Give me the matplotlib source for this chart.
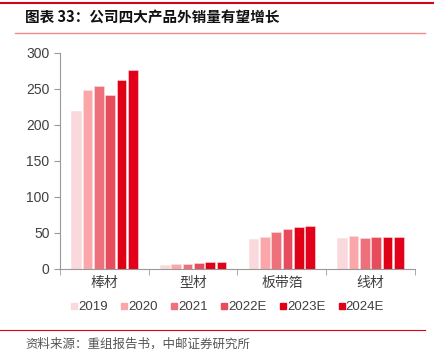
import matplotlib.pyplot as plt
import numpy as np
from matplotlib.lines import Line2D

plt.rcParams['font.family'] = ['Liberation Sans', 'Noto Sans CJK SC']

# 数据
categories = ['棒材', '型材', '板带箔', '线材']
years = ['2019', '2020', '2021', '2022E', '2023E', '2024E']
v2019 = [220, 6, 41, 43]
v2020 = [249, 7, 45, 46]
v2021 = [254, 7, 52, 43]
v2022 = [241, 9, 56, 45]
v2023 = [263, 10, 58, 45]
v2024 = [277, 10, 60, 45]
series = [v2019, v2020, v2021, v2022, v2023, v2024]
colors = ['#F9D9DC', '#FBA6A8', '#EE707B', '#E84C5C', '#E00016', '#E2001A']

fig = plt.figure(figsize=(4.34, 3.62), dpi=100)
ax = fig.add_axes([60/434, 1-269/362, (415-60)/434, (269-53)/362])

x = np.arange(len(categories))
w = 0.128
for i, (vals, c) in enumerate(zip(series, colors)):
    ax.bar(x + (i - 2.5)*w, vals, width=w*0.85, color=c, label=years[i],
           edgecolor='#FBDDE0', linewidth=0.4)

ax.set_xlim(-0.5, 3.5)
ax.set_ylim(0, 300)
ax.set_yticks(range(0, 301, 50))
ax.set_xticks(x)
ax.set_xticklabels(categories, family=['Noto Sans CJK SC'])
ax.set_xticks(np.arange(-0.5, 4, 1), minor=True)
ax.tick_params(axis='x', which='major', length=0, pad=5, labelsize=10, colors='#404040')
ax.tick_params(axis='x', which='minor', length=4, color='#999999')
ax.tick_params(axis='y', length=4, color='#999999', labelsize=10, colors='#404040')
for s in ['top', 'right']:
    ax.spines[s].set_visible(False)
ax.spines['left'].set_color('#999999')
ax.spines['bottom'].set_color('#999999')

handles = [Line2D([], [], marker='s', linestyle='', color=c, markersize=4.5) for c in colors]
fig.legend(handles, years, loc='center', bbox_to_anchor=(0.52, 1-307/362), ncol=6,
           frameon=False, fontsize=9.5, handletextpad=-0.2, columnspacing=0.75,
           handlelength=1.0, labelcolor='#404040')

# 标题与装饰线
fig.add_artist(Line2D([0, 1], [1-3/362, 1-3/362], color='#D9001B', linewidth=1.5))
fig.add_artist(Line2D([15/434, 425/434], [1-33/362, 1-33/362], color='#F08A8A', linewidth=1))
fig.text(25/434, 1-18/362, '图表 33：公司四大产品外销量有望增长', fontsize=10.5,
         fontweight='bold', va='center', ha='left', color='#111111',
         family=['Noto Sans CJK SC'])
fig.add_artist(Line2D([0, 425/434], [1-330/362, 1-330/362], color='#D9001B', linewidth=0.8))
fig.text(25/434, 1-344/362, '资料来源：重组报告书，中邮证券研究所', fontsize=9,
         va='center', ha='left', color='#555555', family=['Noto Sans CJK SC'])

plt.savefig('out.png', dpi=100)
